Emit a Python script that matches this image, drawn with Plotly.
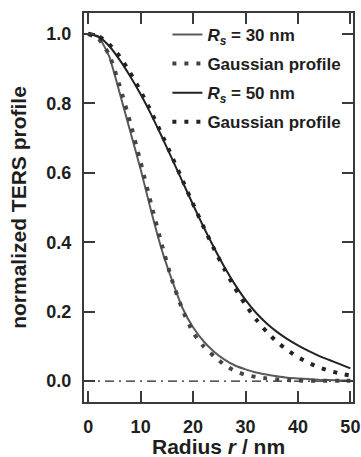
import plotly.graph_objects as go

# radius values (nm)
radius = [0, 2, 4, 6, 8, 10, 12, 14, 16, 18, 20, 22, 24, 26, 28, 30, 32, 34, 36, 38, 40, 42, 44, 46, 48, 50]

# R_s = 30 nm profile
rs30 = [1.0, 0.99, 0.935, 0.83, 0.72, 0.61, 0.49, 0.38, 0.29, 0.21, 0.155, 0.115, 0.085, 0.062, 0.045,
        0.034, 0.025, 0.019, 0.014, 0.010, 0.008, 0.006, 0.004, 0.003, 0.002, 0.002]
# Gaussian profile for R_s = 30 nm
gauss30 = [1.0, 0.985, 0.94, 0.85, 0.745, 0.63, 0.51, 0.395, 0.29, 0.205, 0.14, 0.10, 0.072, 0.047, 0.029,
           0.018, 0.012, 0.008, 0.005, 0.003, 0.002, 0.001, 0.001, 0.001, 0.001, 0.001]
# R_s = 50 nm profile
rs50 = [1.0, 0.992, 0.965, 0.925, 0.878, 0.826, 0.768, 0.705, 0.64, 0.574, 0.508, 0.444, 0.384, 0.328, 0.278,
        0.234, 0.197, 0.167, 0.142, 0.121, 0.103, 0.087, 0.073, 0.061, 0.049, 0.037]
# Gaussian profile for R_s = 50 nm
gauss50 = [1.0, 0.993, 0.97, 0.935, 0.888, 0.835, 0.776, 0.712, 0.646, 0.578, 0.51, 0.444, 0.381, 0.322, 0.268,
           0.22, 0.178, 0.143, 0.113, 0.089, 0.069, 0.053, 0.04, 0.03, 0.022, 0.016]

x_ticks = [0, 10, 20, 30, 40, 50]
y_ticks = [0.0, 0.2, 0.4, 0.6, 0.8, 1.0]
y_ticklabels = ["0.0", "0.2", "0.4", "0.6", "0.8", "1.0"]
x_title = "<b>Radius <i>r</i> / nm</b>"
y_title = "<b>normalized TERS profile</b>"

FONT = "Liberation Sans, Arial, Helvetica, sans-serif"
AX = "#3a3a3a"
TXT = "#1e1e1e"

fig = go.Figure()
series = [
    ("<b><i>R</i><sub><i>s</i></sub> = 30 nm</b>", rs30, "#5a5a5a", "solid", 2),
    ("<b>Gaussian profile</b>", gauss30, "#444444", "4px,8px", 4),
    ("<b><i>R</i><sub><i>s</i></sub> = 50 nm</b>", rs50, "#222222", "solid", 2),
    ("<b>Gaussian profile</b>", gauss50, "#222222", "4px,8px", 4),
]
for i, (name, ys, col, dash, w) in enumerate(series):
    fig.add_trace(go.Scatter(
        x=radius, y=ys, mode="lines", name=name, legendgroup=f"g{i}",
        line=dict(color=col, dash=dash, width=w, shape="spline", smoothing=0.5),
    ))

fig.add_shape(type="line", xref="paper", yref="y", x0=0, x1=1, y0=0, y1=0,
              line=dict(color="#222222", width=1.2, dash="9px,5px,2px,5px"), layer="below")

axis_common = dict(
    ticks="inside", ticklen=11, tickwidth=1.5, tickcolor=AX,
    showline=True, linecolor=AX, linewidth=2, mirror="ticks",
    showgrid=False, zeroline=False, automargin=False,
    tickfont=dict(family=FONT, size=18, color=TXT, weight="bold"),
)
fig.update_xaxes(range=[-0.8, 50.5], tickvals=x_ticks, ticktext=[str(v) for v in x_ticks],
                 ticklabelstandoff=7, **axis_common)
fig.update_yaxes(range=[-0.06, 1.06], tickvals=y_ticks, ticktext=y_ticklabels,
                 title=dict(text=y_title, font=dict(family=FONT, size=21, color=TXT), standoff=14),
                 ticklabelstandoff=7, **axis_common)

fig.add_annotation(text=x_title, xref="paper", yref="paper", x=0.5, y=-0.115,
                   xanchor="center", yanchor="middle", showarrow=False,
                   font=dict(family=FONT, size=21, color=TXT))

fig.update_layout(
    width=361, height=457,
    margin=dict(l=84, r=8, t=13, b=55),
    paper_bgcolor="white", plot_bgcolor="white",
    showlegend=True,
    legend=dict(x=0.31, y=0.99, xanchor="left", yanchor="top",
                bgcolor="rgba(0,0,0,0)", borderwidth=0, tracegroupgap=4,
                font=dict(family=FONT, size=17, color=TXT)),
)

fig.write_html("out.html")
